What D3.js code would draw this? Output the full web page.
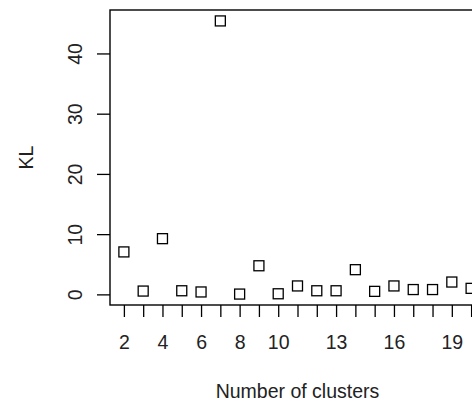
<!DOCTYPE html>
<html>
<head>
<meta charset="utf-8">
<script src="https://d3js.org/d3.v7.min.js"></script>
<style>
body{margin:0;background:#fff;}
text{font-family:"Liberation Sans",Arial,sans-serif;font-size:19.5px;fill:#222;}
</style>
</head>
<body>
<svg width="472" height="403"></svg>
<script>
// number of clusters
var clusters = [2,3,4,5,6,7,8,9,10,11,12,13,14,15,16,17,18,19,20];
// KL index for each
var klValues = [7.05,0.55,9.25,0.6,0.4,45.4,0.05,4.75,0.1,1.4,0.6,0.6,4.1,0.5,1.4,0.8,0.8,2.05,1.0];
var yTicks = [0,10,20,30,40];
var xTickLabels = [2,4,6,8,10,13,16,19];

var data = clusters.map(function(c,i){ return {k:c, kl:klValues[i]}; });

var svg = d3.select("svg");

// R style axis range: extend 4% each side
var xmin = d3.min(clusters), xmax = d3.max(clusters);
var ymin = d3.min(klValues), ymax = d3.max(klValues);
var xext = (xmax-xmin)*0.04, yext = (ymax-ymin)*0.04;

// plot box (right side runs off the page like in the original)
var boxL = 110, boxR = 485, boxT = 10, boxB = 305;

var x = d3.scaleLinear().domain([xmin-xext, xmax+xext]).range([boxL, boxR]);
var y = d3.scaleLinear().domain([ymin-yext, ymax+yext]).range([boxB, boxT]);

// box
svg.append("rect")
  .attr("x",boxL).attr("y",boxT)
  .attr("width",boxR-boxL).attr("height",boxB-boxT)
  .style("fill","none").style("stroke","#000").style("stroke-width",1.4);

// x axis ticks (every integer), labels only some
var xAxis = d3.axisBottom(x).tickValues(clusters).tickSize(12).tickSizeOuter(0)
  .tickFormat(function(d){ return xTickLabels.indexOf(d)>=0 ? d : ""; });
var gx = svg.append("g").attr("transform","translate(0,"+boxB+")").call(xAxis);
gx.select(".domain").remove();
gx.selectAll("line").style("stroke","#000").style("stroke-width",1.3);
gx.selectAll("text").attr("y",null).attr("dy",null)
  .attr("transform","translate(0,44)")
  .style("font-size","19.5px").style("font-family","Liberation Sans, Arial, sans-serif").style("fill","#222");

// y axis
var yAxis = d3.axisLeft(y).tickValues(yTicks).tickSize(13).tickSizeOuter(0);
var gy = svg.append("g").attr("transform","translate("+boxL+",0)").call(yAxis);
gy.select(".domain").remove();
gy.selectAll("line").style("stroke","#000").style("stroke-width",1.3);
gy.selectAll("text").attr("x",null).attr("dy",null)
  .attr("text-anchor","middle")
  .attr("transform","translate(-28.5,0) rotate(-90)")
  .style("font-size","19.5px").style("font-family","Liberation Sans, Arial, sans-serif").style("fill","#222");

// points (open squares)
var s = 10;
svg.selectAll(".pt").data(data).enter().append("rect")
  .attr("class","pt")
  .attr("x",function(d){ return x(d.k)-s/2; })
  .attr("y",function(d){ return y(d.kl)-s/2; })
  .attr("width",s).attr("height",s)
  .style("fill","none").style("stroke","#000").style("stroke-width",1.3);

// axis titles
svg.append("text")
  .attr("x",(boxL+boxR)/2).attr("y",398)
  .attr("text-anchor","middle")
  .text("Number of clusters");

svg.append("text")
  .attr("transform","translate(33,"+((boxT+boxB)/2)+") rotate(-90)")
  .attr("text-anchor","middle")
  .text("KL");
</script>
</body>
</html>
